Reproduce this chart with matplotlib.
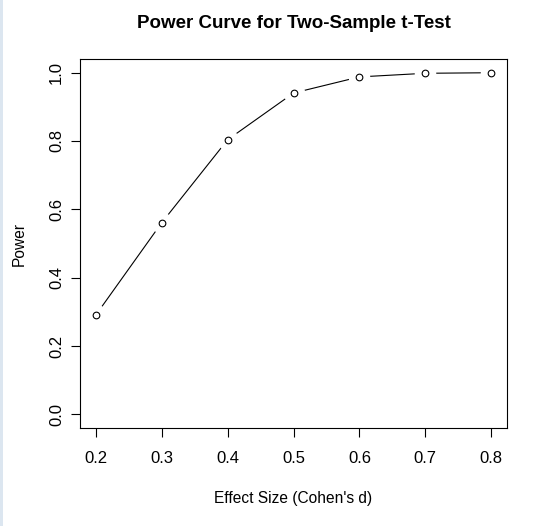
import matplotlib
matplotlib.use("Agg")
import matplotlib.pyplot as plt
from matplotlib.patches import Rectangle

effect_size = [0.2, 0.3, 0.4, 0.5, 0.6, 0.7, 0.8]
power = [0.2906, 0.5607, 0.8036, 0.9404, 0.9876, 0.9982, 0.9998]
x_ticks = [0.2, 0.3, 0.4, 0.5, 0.6, 0.7, 0.8]
y_ticks = [0.0, 0.2, 0.4, 0.6, 0.8, 1.0]

plt.rcParams['font.family'] = ['Liberation Sans', 'DejaVu Sans']

W, H = 546, 526
fig = plt.figure(figsize=(W / 100, H / 100), dpi=100)
fig.patches.append(Rectangle((0, 0), 3 / W, 1, transform=fig.transFigure,
                             facecolor='#dce6f0', edgecolor='none', zorder=0))

ax = fig.add_axes([80 / W, (H - 428) / H, 427 / W, 369 / H])
ax.plot(effect_size, power, color='black', lw=0.8, zorder=2)
ax.plot(effect_size, power, linestyle='none', marker='o', markersize=14.5,
        markerfacecolor='white', markeredgecolor='white', zorder=3)
ax.plot(effect_size, power, linestyle='none', marker='o', markersize=4.8,
        markerfacecolor='white', markeredgecolor='black', markeredgewidth=0.8, zorder=4)

ax.set_xlim(0.176, 0.824)
ax.set_ylim(-0.04, 1.04)
ax.set_xticks(x_ticks)
ax.set_xticklabels([f"{v:.1f}" for v in x_ticks])
ax.set_yticks(y_ticks)
ax.set_yticklabels([f"{v:.1f}" for v in y_ticks], rotation=90, va='center')
ax.tick_params(axis='both', direction='out', length=6.5, width=0.8, labelsize=12)
ax.tick_params(axis='x', pad=10)
ax.tick_params(axis='y', pad=5)
for s in ax.spines.values():
    s.set_linewidth(0.8)

ax.set_xlabel("Effect Size (Cohen's d)", fontsize=11.2, labelpad=18)
ax.set_ylabel("Power", fontsize=11.2, labelpad=16)
fig.suptitle("Power Curve for Two-Sample t-Test", fontsize=13.5, fontweight='bold',
             x=(80 + 507) / 2 / W, y=1 - 23 / H, va='center')

fig.savefig("out.png", dpi=100)
